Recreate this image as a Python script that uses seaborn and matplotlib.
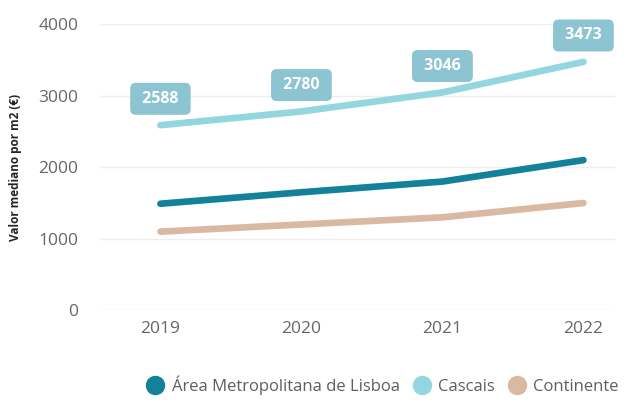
import pandas as pd
import matplotlib.pyplot as plt
import seaborn as sns

anos = [2019, 2020, 2021, 2022]
lisboa = [1490, 1650, 1800, 2100]
cascais = [2588, 2780, 3046, 3473]
continente = [1100, 1200, 1300, 1500]
series = ['Área Metropolitana de Lisboa', 'Cascais', 'Continente']
cores = ['#13819a', '#94d6df', '#d9b9a1']

df = pd.DataFrame({
    'Ano': anos * 3,
    'Valor': lisboa + cascais + continente,
    'Serie': [s for s in series for _ in anos],
})

sns.set_theme(style='white')
plt.rcParams['font.family'] = ['Open Sans', 'DejaVu Sans']

fig, ax = plt.subplots(figsize=(6.28, 4.03), dpi=100)
sns.lineplot(data=df, x='Ano', y='Valor', hue='Serie', palette=cores,
             linewidth=4.8, ax=ax, legend=False, solid_capstyle='round')

# rótulos de dados da série Cascais
for a, v in zip(anos, cascais):
    ax.annotate(f' {v} ', (a, v), xytext=(0, 19), textcoords='offset points',
                ha='center', va='center', color='white', fontsize=11.5, fontweight='bold',
                bbox=dict(boxstyle='round,pad=0.5,rounding_size=0.35', fc='#8dc4d1', ec='none'))

ax.set_ylim(0, 4000)
ax.set_yticks([0, 1000, 2000, 3000, 4000])
ax.set_xticks(anos)
ax.set_xlim(2018.575, 2022.227)
ax.grid(axis='y', color='#eeeeee', linewidth=1)
sns.despine(left=True, bottom=True)
ax.tick_params(axis='y', length=0, labelsize=12.5, labelcolor='#666666', pad=16)
ax.tick_params(axis='x', length=0, labelsize=12.5, labelcolor='#666666', pad=8)
ax.set_xlabel('')
ax.set_ylabel('Valor mediano por m2 (€)', fontsize=8.5, fontweight='bold', color='#252423', labelpad=12)

handles = [plt.Line2D([], [], marker='o', linestyle='', markersize=13, color=c) for c in cores]
fig.legend(handles, series, loc='lower center', ncol=3, frameon=False, fontsize=12,
           handletextpad=0.0, columnspacing=0.3, bbox_to_anchor=(0.603, -0.018),
           labelcolor='#605e5c')

plt.subplots_adjust(left=0.16, right=0.98, top=0.94, bottom=0.23)
plt.savefig('out.png', dpi=100)
